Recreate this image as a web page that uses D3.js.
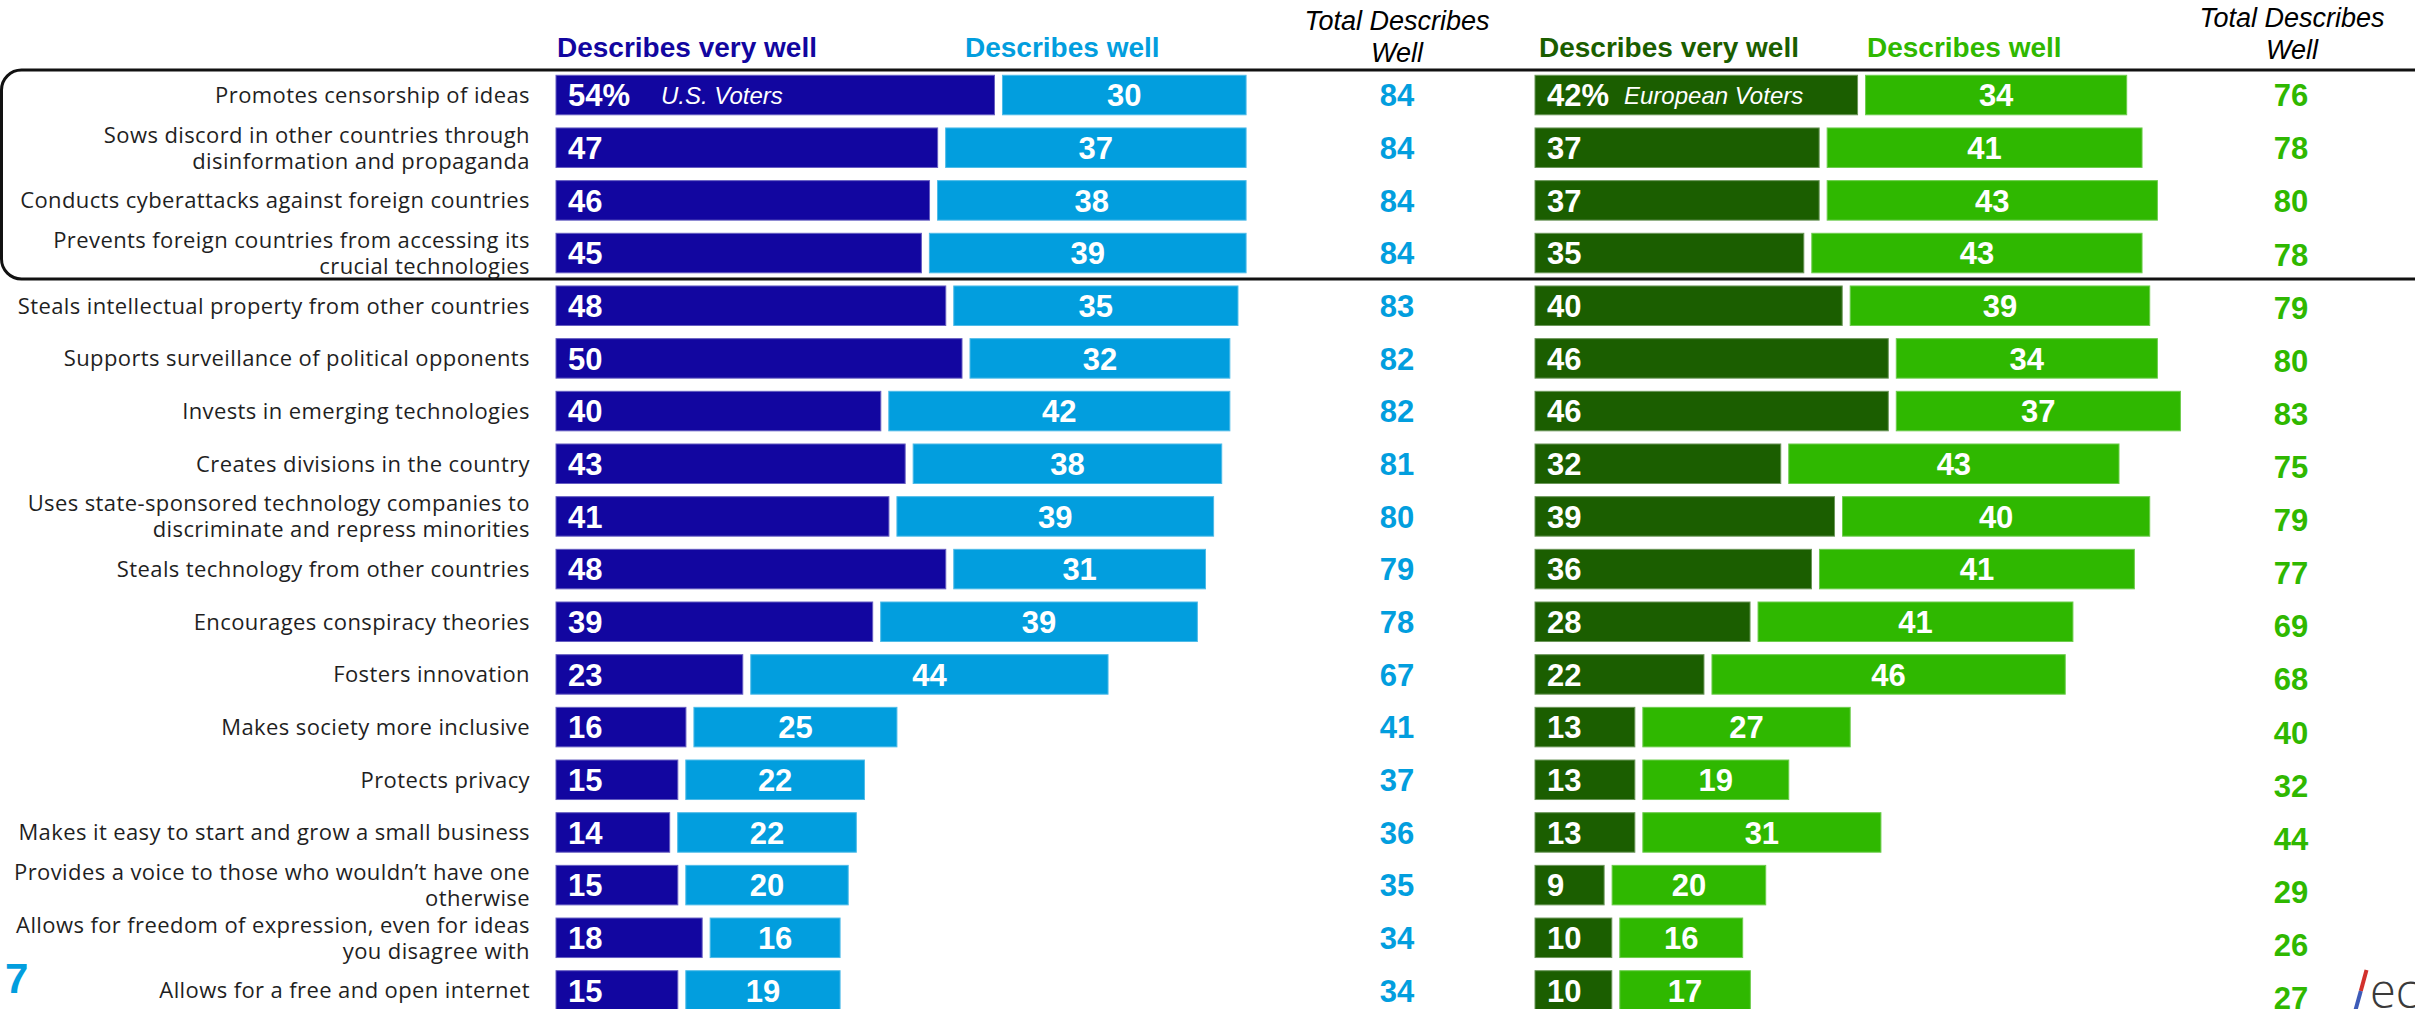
<!DOCTYPE html>
<html>
<head>
<meta charset="utf-8">
<script src="https://cdn.jsdelivr.net/npm/d3@7"></script>
<style>
  html, body { margin: 0; padding: 0; background: #ffffff; overflow: hidden; }
  svg { display: block; }
</style>
</head>
<body>
<svg id="chart" width="2415" height="1009"></svg>
<script>
// Statements about a country's tech policy, with share of voters who say each describes it
const categories = [
  "Promotes censorship of ideas",
  "Sows discord in other countries through\ndisinformation and propaganda",
  "Conducts cyberattacks against foreign countries",
  "Prevents foreign countries from accessing its\ncrucial technologies",
  "Steals intellectual property from other countries",
  "Supports surveillance of political opponents",
  "Invests in emerging technologies",
  "Creates divisions in the country",
  "Uses state-sponsored technology companies to\ndiscriminate and repress minorities",
  "Steals technology from other countries",
  "Encourages conspiracy theories",
  "Fosters innovation",
  "Makes society more inclusive",
  "Protects privacy",
  "Makes it easy to start and grow a small business",
  "Provides a voice to those who wouldn\u2019t have one\notherwise",
  "Allows for freedom of expression, even for ideas\nyou disagree with",
  "Allows for a free and open internet"
];

// U.S. voters
const usVeryWell = [54, 47, 46, 45, 48, 50, 40, 43, 41, 48, 39, 23, 16, 15, 14, 15, 18, 15];
const usWell     = [30, 37, 38, 39, 35, 32, 42, 38, 39, 31, 39, 44, 25, 22, 22, 20, 16, 19];
const usTotal    = [84, 84, 84, 84, 83, 82, 82, 81, 80, 79, 78, 67, 41, 37, 36, 35, 34, 34];

// European voters
const euVeryWell = [42, 37, 37, 35, 40, 46, 46, 32, 39, 36, 28, 22, 13, 13, 13,  9, 10, 10];
const euWell     = [34, 41, 43, 43, 39, 34, 37, 43, 40, 41, 41, 46, 27, 19, 31, 20, 16, 17];
const euTotal    = [76, 78, 80, 78, 79, 80, 83, 75, 79, 77, 69, 68, 40, 32, 44, 29, 26, 27];

const headerVeryWell = "Describes very well";
const headerWell = "Describes well";
const headerTotal = ["Total Describes", "Well"];
const usTag = "U.S. Voters";
const euTag = "European Voters";
const pageNumber = "7";

const C = {
  usDark: "#1206A0", usLight: "#029EDE",
  euDark: "#1B5E00", euLight: "#2FB800",
  text: "#1f1f1f"
};
const numFont = "'Liberation Sans', Arial, sans-serif";
const labelFont = "'Open Sans', 'Noto Sans', sans-serif";

const svg = d3.select("#chart");

const idx = d3.range(categories.length);

// Row bands
const y = d3.scaleBand()
  .domain(idx)
  .range([68.7, 1016.8])
  .paddingInner(0.25)
  .paddingOuter(0.125);

// Right-hand totals sit on a slightly taller grid
const yTotEU = d3.scalePoint().domain(idx).range([95, 998]);

const GAP = 8;
const xUS = d3.scaleLinear().domain([0, 100]).range([556, 556 + 812]);
const xEU = d3.scaleLinear().domain([0, 100]).range([1535, 1535 + 768]);

// Frame around the first four statements
svg.append("rect")
  .attr("x", 1.5).attr("y", 70)
  .attr("width", 2600).attr("height", 209)
  .attr("rx", 20).attr("ry", 20)
  .attr("fill", "none")
  .attr("stroke", "#111")
  .attr("stroke-width", 3);

// Column headers
const headers = svg.append("g").attr("font-family", numFont);
headers.append("text").attr("x", 557).attr("y", 57)
  .attr("font-size", 28).attr("font-weight", "bold").attr("fill", C.usDark).text(headerVeryWell);
headers.append("text").attr("x", 965).attr("y", 57)
  .attr("font-size", 28).attr("font-weight", "bold").attr("fill", C.usLight).text(headerWell);
headers.append("text").attr("x", 1539).attr("y", 57)
  .attr("font-size", 28).attr("font-weight", "bold").attr("fill", C.euDark).text(headerVeryWell);
headers.append("text").attr("x", 1867).attr("y", 57)
  .attr("font-size", 28).attr("font-weight", "bold").attr("fill", C.euLight).text(headerWell);

function totalHeader(cx, y0) {
  const t = headers.append("text")
    .attr("text-anchor", "middle")
    .attr("font-size", 27).attr("font-style", "italic").attr("fill", "#000");
  headerTotal.forEach((line, i) => {
    t.append("tspan").attr("x", cx).attr("y", y0 + i * 31.7).text(line);
  });
}
totalHeader(1397, 30);
totalHeader(2292, 27);

// Category labels
const labels = svg.append("g")
  .attr("font-family", labelFont)
  .attr("font-size", 22)
  .attr("letter-spacing", "0.4px")
  .attr("fill", C.text)
  .attr("text-anchor", "end");

idx.forEach(i => {
  const lines = categories[i].split("\n");
  const cy = y(i) + y.bandwidth() / 2;
  const t = labels.append("text");
  lines.forEach((line, j) => {
    t.append("tspan")
      .attr("x", 530)
      .attr("y", cy + (j - (lines.length - 1) / 2) * 26)
      .attr("dy", "0.36em")
      .text(line);
  });
});

// Stacked bar pair for one voter group
function drawGroup(x, veryWell, well, dark, light, tag) {
  const g = svg.append("g");
  const x0 = x(0);

  g.selectAll("rect.dark").data(idx).join("rect")
    .attr("class", "dark")
    .attr("x", x0)
    .attr("y", i => y(i))
    .attr("width", i => x(veryWell[i]) - x0)
    .attr("height", y.bandwidth())
    .attr("fill", dark)
    .attr("stroke", d3.interpolateRgb(dark, "#ffffff")(0.35))
    .attr("stroke-width", 1);

  g.selectAll("rect.light").data(idx).join("rect")
    .attr("class", "light")
    .attr("x", i => x(veryWell[i]) + GAP)
    .attr("y", i => y(i))
    .attr("width", i => x(well[i]) - x0)
    .attr("height", y.bandwidth())
    .attr("fill", light)
    .attr("stroke", d3.interpolateRgb(light, "#ffffff")(0.3))
    .attr("stroke-width", 1);

  const nums = g.append("g")
    .attr("font-family", numFont)
    .attr("font-weight", "bold")
    .attr("font-size", 31)
    .attr("fill", "#ffffff");

  nums.selectAll("text.dv").data(idx).join("text")
    .attr("class", "dv")
    .attr("x", x0 + 12)
    .attr("y", i => y(i) + y.bandwidth() / 2)
    .attr("dy", "0.36em")
    .text(i => i === 0 ? veryWell[i] + "%" : veryWell[i]);

  nums.selectAll("text.lv").data(idx).join("text")
    .attr("class", "lv")
    .attr("text-anchor", "middle")
    .attr("x", i => x(veryWell[i]) + GAP + (x(well[i]) - x0) / 2)
    .attr("y", i => y(i) + y.bandwidth() / 2)
    .attr("dy", "0.36em")
    .text(i => well[i]);

  // Group tag inside the first bar
  g.append("text")
    .attr("font-family", numFont)
    .attr("font-style", "italic")
    .attr("font-size", 24)
    .attr("fill", "#ffffff")
    .attr("x", x0 + 12 + 64 + (tag === usTag ? 29 : 13))
    .attr("y", y(0) + y.bandwidth() / 2)
    .attr("dy", "0.36em")
    .text(tag);
}

drawGroup(xUS, usVeryWell, usWell, C.usDark, C.usLight, usTag);
drawGroup(xEU, euVeryWell, euWell, C.euDark, C.euLight, euTag);

// Totals columns
const totals = svg.append("g")
  .attr("font-family", numFont)
  .attr("font-weight", "bold")
  .attr("font-size", 31)
  .attr("text-anchor", "middle");

totals.selectAll("text.us").data(idx).join("text")
  .attr("class", "us")
  .attr("x", 1397)
  .attr("y", i => y(i) + y.bandwidth() / 2)
  .attr("dy", "0.36em")
  .attr("fill", C.usLight)
  .text(i => usTotal[i]);

totals.selectAll("text.eu").data(idx).join("text")
  .attr("class", "eu")
  .attr("x", 2291)
  .attr("y", i => yTotEU(i))
  .attr("dy", "0.36em")
  .attr("fill", C.euLight)
  .text(i => euTotal[i]);

// Page number
svg.append("text")
  .attr("x", 5).attr("y", 993)
  .attr("font-family", numFont)
  .attr("font-weight", "bold")
  .attr("font-size", 42)
  .attr("fill", C.usLight)
  .text(pageNumber);

// Brand mark in the corner
const logo = svg.append("g");
logo.append("line")
  .attr("x1", 2366.5).attr("y1", 970).attr("x2", 2360.8).attr("y2", 991)
  .attr("stroke", "#D2302C").attr("stroke-width", 4);
logo.append("line")
  .attr("x1", 2360.8).attr("y1", 991).attr("x2", 2355.5).attr("y2", 1010)
  .attr("stroke", "#3D5BB8").attr("stroke-width", 4);
logo.append("text")
  .attr("x", 2370).attr("y", 1008)
  .attr("font-family", labelFont)
  .attr("font-weight", 300)
  .attr("font-size", 47)
  .attr("fill", "#3a3a3a")
  .text("ec");
</script>
</body>
</html>
